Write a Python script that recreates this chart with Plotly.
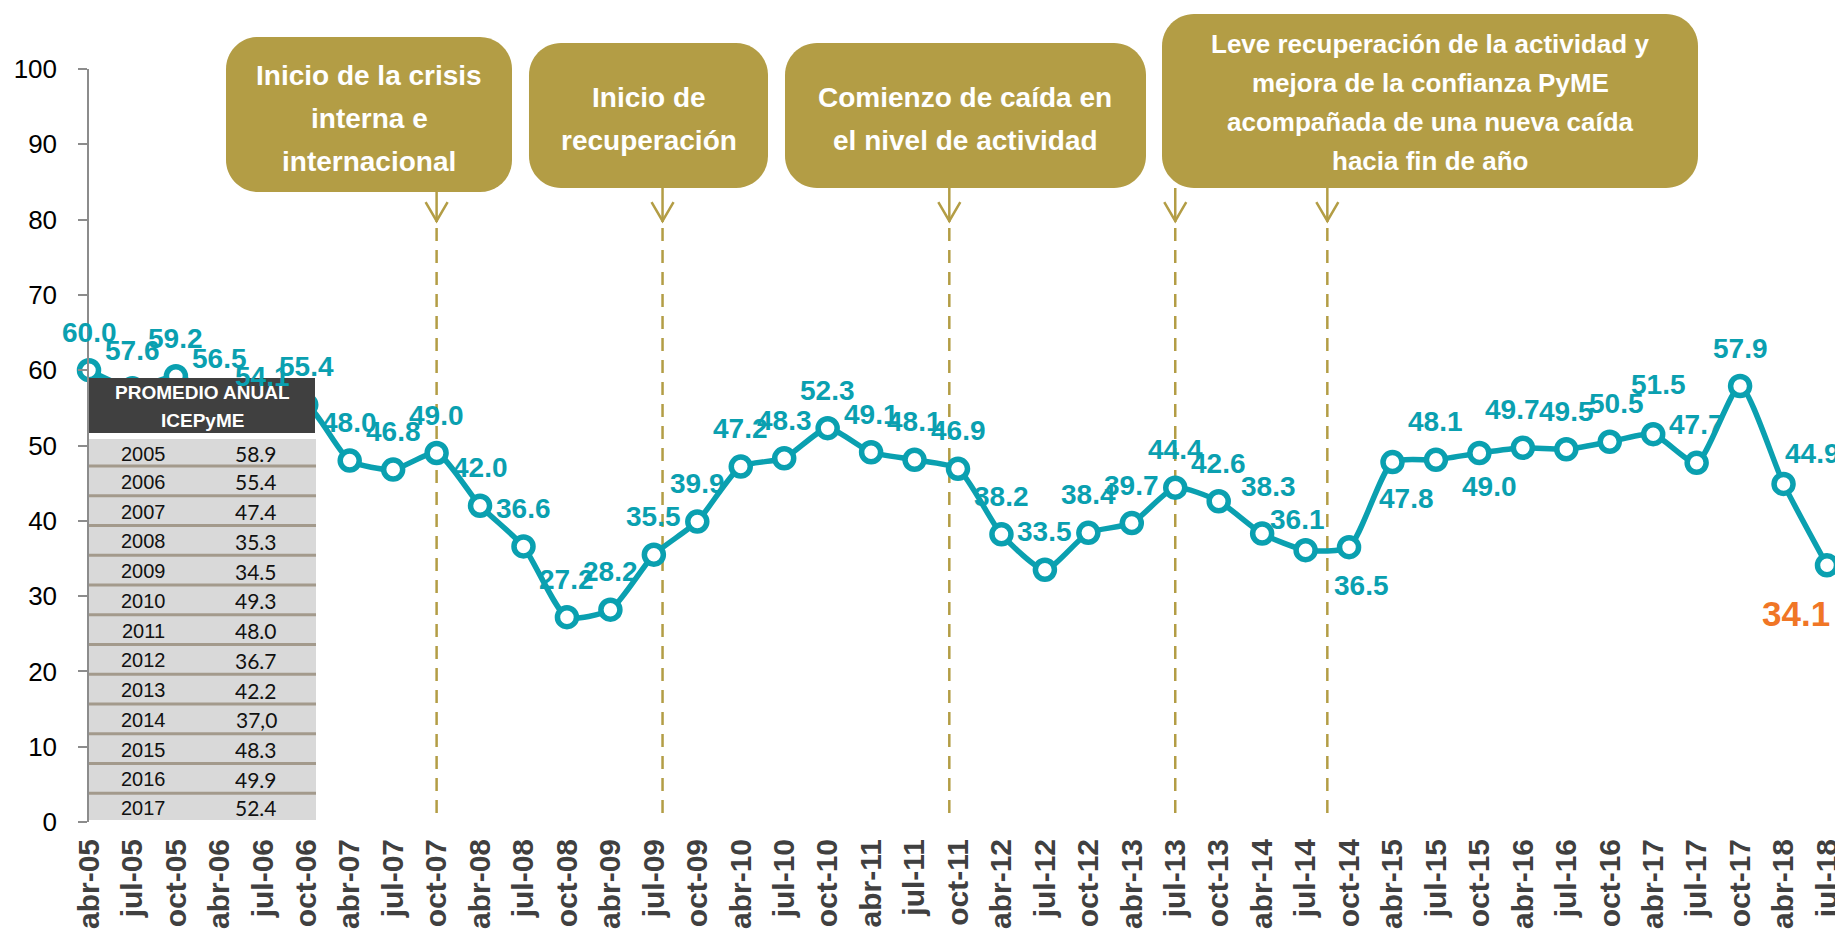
import plotly.graph_objects as go

# ---------------- data ----------------
categories = ["abr-05", "jul-05", "oct-05", "abr-06", "jul-06", "oct-06", "abr-07", "jul-07",
              "oct-07", "abr-08", "jul-08", "oct-08", "abr-09", "jul-09", "oct-09", "abr-10",
              "jul-10", "oct-10", "abr-11", "jul-11", "oct-11", "abr-12", "jul-12", "oct-12",
              "abr-13", "jul-13", "oct-13", "abr-14", "jul-14", "oct-14", "abr-15", "jul-15",
              "oct-15", "abr-16", "jul-16", "oct-16", "abr-17", "jul-17", "oct-17", "abr-18",
              "jul-18"]
icepyme = [60.0, 57.6, 59.2, 56.5, 54.1, 55.4, 48.0, 46.8, 49.0, 42.0, 36.6, 27.2, 28.2, 35.5,
           39.9, 47.2, 48.3, 52.3, 49.1, 48.1, 46.9, 38.2, 33.5, 38.4, 39.7, 44.4, 42.6, 38.3,
           36.1, 36.5, 47.8, 48.1, 49.0, 49.7, 49.5, 50.5, 51.5, 47.7, 57.9, 44.9, 34.1]

years = ["2005", "2006", "2007", "2008", "2009", "2010", "2011", "2012", "2013", "2014",
         "2015", "2016", "2017"]
annual_avg = ["58.9", "55.4", "47.4", "35.3", "34.5", "49.3", "48.0", "36.7", "42.2", "37,0",
              "48.3", "49.9", "52.4"]
table_title = ["PROMEDIO ANUAL", "ICEPyME"]

event_lines = [
    ["Inicio de la crisis", "interna e", "internacional"],
    ["Inicio de", "recuperación"],
    ["Comienzo de caída en", "el nivel de actividad"],
    ["Leve recuperación de la actividad y", "mejora de la confianza PyME",
     "acompañada de una nueva caída", "hacia fin de año"],
]
# event marker positions on the category axis (index units)
event_marks = [8.0, 13.2, 19.8, 25.0, 28.5]

# ---------------- style / layout constants ----------------
TEAL = "#0aa0b0"
GOLD = "#b39d45"
ORANGE = "#f07626"
FONT = "Liberation Sans, Arial, sans-serif"

FIG_W, FIG_H = 1843, 931
L, R, T, B = 81, 1819, 61, 814


def xp(px):
    return (px - L) / (R - L)


def yp(py):
    return (B - py) / (B - T)


def rrect_path(x0, y0, x1, y1, r):
    k = 0.5523 * r

    def P(x, y):
        return f"{xp(x):.5f},{yp(y):.5f}"

    return (f"M {P(x0 + r, y0)} L {P(x1 - r, y0)} "
            f"C {P(x1 - r + k, y0)} {P(x1, y0 + r - k)} {P(x1, y0 + r)} "
            f"L {P(x1, y1 - r)} "
            f"C {P(x1, y1 - r + k)} {P(x1 - r + k, y1)} {P(x1 - r, y1)} "
            f"L {P(x0 + r, y1)} "
            f"C {P(x0 + r - k, y1)} {P(x0, y1 - r + k)} {P(x0, y1 - r)} "
            f"L {P(x0, y0 + r)} "
            f"C {P(x0, y0 + r - k)} {P(x0 + r - k, y0)} {P(x0 + r, y0)} Z")


n = len(categories)
xs = list(range(n))

fig = go.Figure()
fig.add_trace(go.Scatter(
    x=xs, y=icepyme, mode="lines+markers",
    line=dict(color=TEAL, width=5.5, shape="spline", smoothing=0.6),
    marker=dict(size=19, color="white", line=dict(color=TEAL, width=5.5)),
    cliponaxis=False, hoverinfo="skip", showlegend=False,
))

shapes = []
annotations = []

# ---------- data labels ----------
label_offsets = {  # index: (dx, dy) in pixels, dy positive = downward
    27: (6, -47), 28: (-8, -31), 29: (12, 38), 30: (14, 36), 32: (10, 33),
    33: (-10, -38), 35: (7, -38), 36: (5, -50), 39: (29, -30), 40: (-31, 48),
}
for i, v in enumerate(icepyme):
    dx, dy = label_offsets.get(i, (0, -38))
    last = i == n - 1
    annotations.append(dict(
        x=i, y=v, xref="x", yref="y", text=f"{v:.1f}", showarrow=False,
        xshift=dx, yshift=-dy, xanchor="center", yanchor="middle",
        font=dict(family=FONT, size=35 if last else 28,
                  color=ORANGE if last else TEAL, weight="bold"),
    ))

# ---------- event boxes ----------
boxes = [(218, 29, 504, 184), (521, 35, 760, 180), (777, 35, 1138, 180), (1154, 6, 1690, 180)]
box_font = [28, 28, 28, 26]
box_line_y = [[67, 110, 153], [90, 132], [90, 132], [36, 75, 114, 153]]
for (x0, y0, x1, y1), fs, lys, lines in zip(boxes, box_font, box_line_y, event_lines):
    shapes.append(dict(type="path", xref="paper", yref="paper", path=rrect_path(x0, y0, x1, y1, 32),
                       fillcolor=GOLD, line=dict(width=0), layer="above"))
    for ly, txt in zip(lys, lines):
        annotations.append(dict(x=xp((x0 + x1) / 2), y=yp(ly), xref="paper", yref="paper",
                                text=txt, showarrow=False, xanchor="center", yanchor="middle",
                                font=dict(family=FONT, size=fs, color="white", weight="bold")))

# ---------- arrows + dashed lines ----------
head_dx = 11 / ((R - L) / (n - 1))
for xm, ytop in zip(event_marks, [184, 180, 180, 180, 180]):
    shapes.append(dict(type="line", xref="x", yref="paper", x0=xm, x1=xm, y0=yp(ytop), y1=yp(214),
                       line=dict(color=GOLD, width=2.5), layer="above"))
    shapes.append(dict(type="path", xref="x", yref="paper",
                       path=f"M {xm - head_dx:.4f},{yp(194):.5f} L {xm:.4f},{yp(213):.5f} L {xm + head_dx:.4f},{yp(194):.5f}",
                       line=dict(color=GOLD, width=2.5), layer="above"))
    shapes.append(dict(type="line", xref="x", yref="paper", x0=xm, x1=xm, y0=yp(220), y1=0,
                       line=dict(color=GOLD, width=2.5, dash="13px,9px"), layer="below"))

# ---------- annual average table ----------
TX0, TX1 = 81, 307
shapes.append(dict(type="rect", xref="paper", yref="paper", x0=xp(TX0), x1=xp(TX1),
                   y0=yp(370), y1=yp(425), fillcolor="#404040", line=dict(width=0), layer="above"))
shapes.append(dict(type="rect", xref="paper", yref="paper", x0=xp(TX0), x1=xp(TX1),
                   y0=yp(425), y1=yp(431), fillcolor="white", line=dict(width=0), layer="above"))
shapes.append(dict(type="rect", xref="paper", yref="paper", x0=xp(TX0), x1=xp(TX1 + 1),
                   y0=yp(431), y1=yp(812), fillcolor="#d9d9d9", line=dict(width=0), layer="above"))
row_top = 431
sep0, step = 458, 29.75
row_edges = [row_top] + [sep0 + step * k for k in range(len(years) - 1)] + [812]
for k in range(1, len(row_edges) - 1):
    shapes.append(dict(type="line", xref="paper", yref="paper", x0=xp(TX0), x1=xp(TX1 + 1),
                       y0=yp(row_edges[k]), y1=yp(row_edges[k]),
                       line=dict(color="#a39a8c", width=3), layer="above"))
annotations.append(dict(x=xp(194), y=yp(385), xref="paper", yref="paper", text=table_title[0],
                        showarrow=False, xanchor="center", yanchor="middle",
                        font=dict(family=FONT, size=19, color="white", weight="bold")))
annotations.append(dict(x=xp(194), y=yp(412), xref="paper", yref="paper", text=table_title[1],
                        showarrow=False, xanchor="center", yanchor="middle",
                        font=dict(family=FONT, size=19, color="white", weight="bold")))
for k, (yr, av) in enumerate(zip(years, annual_avg)):
    yc = (row_edges[k] + row_edges[k + 1]) / 2 + 1
    annotations.append(dict(x=xp(135), y=yp(yc), xref="paper", yref="paper", text=yr,
                            showarrow=False, xanchor="center", yanchor="middle",
                            font=dict(family=FONT, size=20, color="#111111")))
    annotations.append(dict(x=xp(248), y=yp(yc), xref="paper", yref="paper", text=av,
                            showarrow=False, xanchor="center", yanchor="middle",
                            font=dict(family="Lato, Open Sans, sans-serif", size=21, color="#111111")))

fig.update_layout(
    width=FIG_W, height=FIG_H,
    margin=dict(l=L, r=FIG_W - R, t=T, b=FIG_H - B, autoexpand=False),
    paper_bgcolor="white", plot_bgcolor="white",
    showlegend=False,
    shapes=shapes, annotations=annotations,
    xaxis=dict(range=[0, n - 1], tickmode="array", tickvals=xs, ticktext=categories,
               tickangle=-90, showgrid=False, zeroline=False, showline=False, ticks="",
               ticklabelstandoff=10,
               tickfont=dict(family=FONT, size=30, color="#404040", weight="bold")),
    yaxis=dict(range=[0, 100], dtick=10, tick0=0, showgrid=False, zeroline=False,
               showline=True, linecolor="#8c8c8c", linewidth=1.5,
               ticks="outside", ticklen=9, tickcolor="#8c8c8c", tickwidth=1.5,
               ticklabelstandoff=16,
               tickfont=dict(family=FONT, size=26, color="black")),
)

fig.write_html("out.html")
